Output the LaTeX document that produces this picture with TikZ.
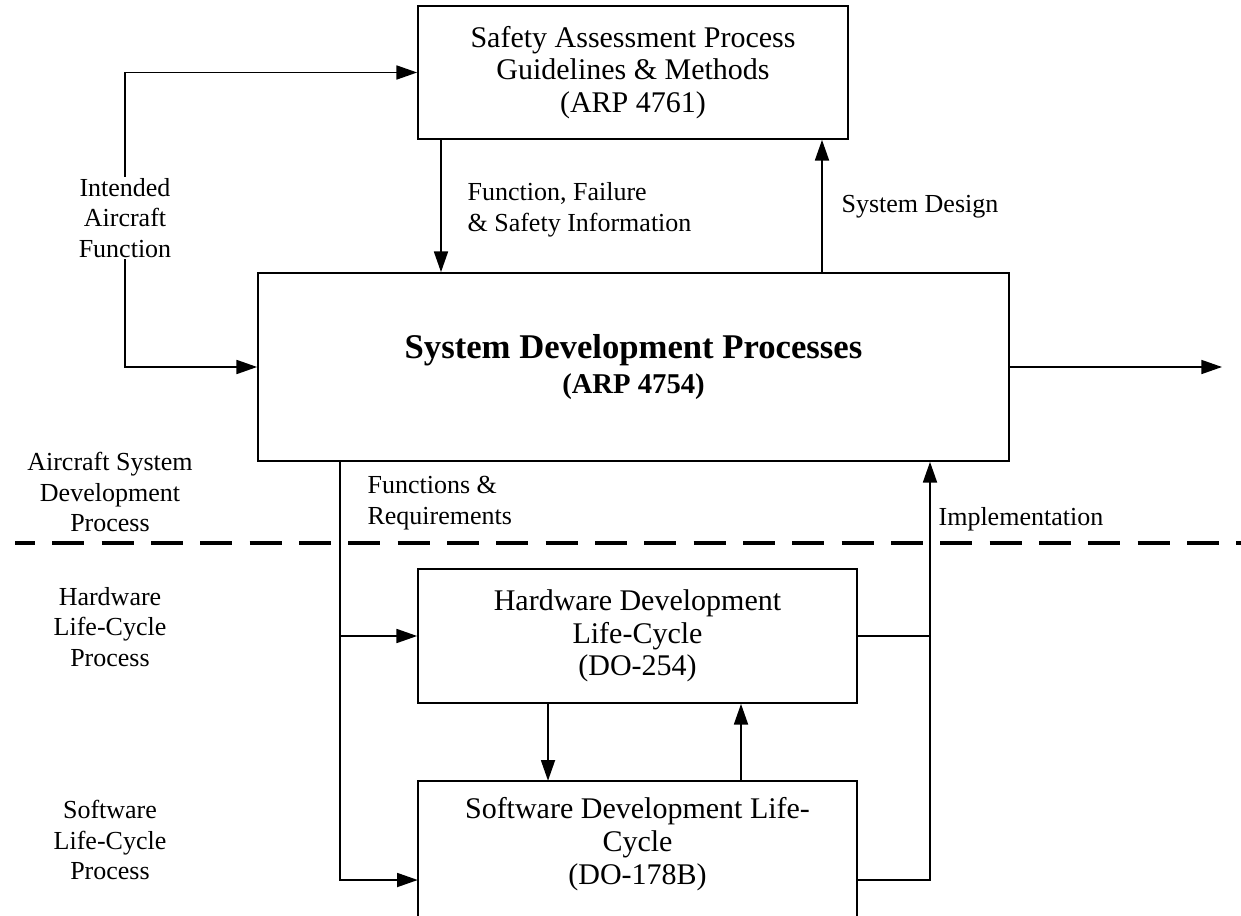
\documentclass[tikz,border=0pt]{standalone}
\usepackage{fontspec}
\setmainfont{Liberation Serif}
\usetikzlibrary{arrows.meta}
\begin{document}
\begin{tikzpicture}[x=0.75pt,y=-0.75pt,
  boxstyle/.style={draw,line width=1.3pt,inner sep=0pt,align=center,
    font=\fontsize{22.5}{24.5}\selectfont},
  lbl/.style={inner sep=1pt,font=\fontsize{19.5}{23}\selectfont},
  ln/.style={line width=1.3pt},
  tip/.tip={Triangle[length=15.5pt,width=10.5pt]},
  arr/.style={line width=1.3pt,-tip},
  dashline/.style={line width=3pt,dash pattern=on 24pt off 13pt,dash phase=9pt}]
\useasboundingbox (0,0) rectangle (1241,916);
% boxes
\node[boxstyle,minimum width=322.5pt,minimum height=99.75pt] (top) at (633,72.5)
  {Safety Assessment Process\\Guidelines \& Methods\\(ARP 4761)};
\node[boxstyle,minimum width=563.25pt,minimum height=141pt] (main) at (633.5,367)
  {{\fontsize{26}{30}\selectfont\bfseries System Development Processes}\\[1.5pt]
   {\fontsize{21.5}{26}\selectfont\bfseries (ARP 4754)}};
\node[boxstyle,minimum width=329.25pt,minimum height=100.5pt] (hw) at (637.5,636)
  {Hardware Development\\Life-Cycle\\(DO-254)};
\node[inner sep=0pt,minimum width=329.25pt,minimum height=120pt] (sw) at (637.5,861) {};
\draw[ln] (sw.south west) -- (sw.north west) -- (sw.north east) -- (sw.south east);
\node[align=center,inner sep=0pt,font=\fontsize{22.5}{24.5}\selectfont] (swtext) at (637.5,844)
  {Software Development Life-\\Cycle\\(DO-178B)};
% coordinates
\coordinate (c1) at (441,0);
\coordinate (c2) at (822,0);
\coordinate (loopc) at (125,367);
\coordinate (bus) at (340,0);
\coordinate (ret) at (930,0);
\coordinate (dn) at (548,0);
\coordinate (up) at (741,0);
\coordinate (out) at (1222,0);
\coordinate (swrow) at (0,880);
\coordinate (dl) at (15,543);
\coordinate (dr) at (1241,543);
% dashed separator
\draw[dashline] (dl) -- (dr);
% connectors
\draw[arr] (top.south -| c1) -- (main.north -| c1);
\draw[arr] (main.north -| c2) -- (top.south -| c2);
\draw[line width=1.3pt,tip-tip] (top.west) -| (loopc) -- (main.west);
\draw[arr] (main.east) -- (out |- main.east);
\draw[arr] (main.south -| bus) |- (sw.west |- swrow);
\draw[arr] (bus |- hw.west) -- (hw.west);
\draw[ln] (hw.east) -- (ret |- hw.east);
\draw[arr] (sw.east |- swrow) -| (main.south -| ret);
\draw[arr] (hw.south -| dn) -- (sw.north -| dn);
\draw[arr] (sw.north -| up) -- (hw.south -| up);
% labels
\node[lbl,fill=white,align=center] (l1) at (125,218) {Intended\\Aircraft\\Function};
\node[lbl,align=left,anchor=west] (l2) at (466,210) {Function, Failure\\\& Safety Information};
\node[lbl] (l3) at (920,207) {System Design};
\node[lbl,align=left,anchor=west] (l4) at (366,503) {Functions \&\\Requirements};
\node[lbl,anchor=west] (l5) at (937,519) {Implementation};
\node[lbl,align=center] (l6) at (110,492) {Aircraft System\\Development\\Process};
\node[lbl,align=center] (l7) at (110,627) {Hardware\\Life-Cycle\\Process};
\node[lbl,align=center] (l8) at (110,840) {Software\\Life-Cycle\\Process};
\end{tikzpicture}
\end{document}
